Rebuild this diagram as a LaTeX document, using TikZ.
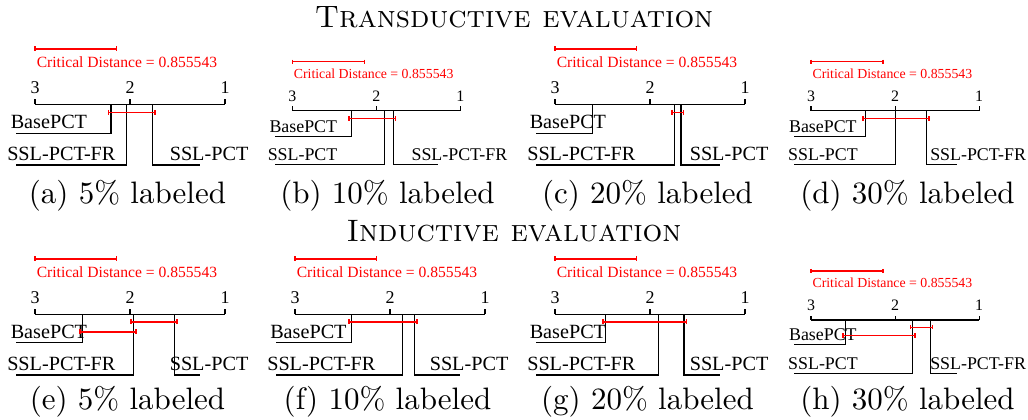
\documentclass[tikz,border=0pt]{standalone}
\usepackage{fontspec}
\newfontfamily\tnr{Liberation Serif}
\newcommand\labfont{\tnr\fontsize{15.15}{18}\selectfont}
\newcommand\cdfont{\tnr\fontsize{11.7}{14}\selectfont}
\newcommand\numfont{\tnr\fontsize{13.5}{16}\selectfont}
\newcommand\capt[1]{\scalebox{2.325}{\fontsize{10}{12}\selectfont #1}}
\tikzset{
  axline/.style={line width=0.8pt},
  methline/.style={line width=0.8pt},
  redline/.style={red, line width=1.1pt},
  lab/.style={font=\labfont, inner sep=0pt},
  cdnum/.style={font=\numfont, inner sep=0pt, anchor=base},
  cdtext/.style={font=\cdfont, text=red, inner sep=0pt, anchor=base west},
  capnode/.style={inner sep=0pt, anchor=base},
}
\newcommand\redbar[3]{\draw[redline] (#1,#3) -- (#2,#3) (#1,#3-2.5) -- (#1,#3+2.5) (#2,#3-2.5) -- (#2,#3+2.5);}
\newcommand\cdframe[1]{%
  \draw[axline] (0,0) -- (190,0);
  \draw[axline] (0,0) -- (0,-5) (95,0) -- (95,-5) (190,0) -- (190,-5);
  \node[cdnum] (#1r3) at (0,-10.5) {3};
  \node[cdnum] (#1r2) at (95,-10.5) {2};
  \node[cdnum] (#1r1) at (190,-10.5) {1};
  \redbar{0}{81.3}{-55.3}
  \node[cdtext] (#1cd) at (1.5,-36.5) {Critical Distance = 0.855543};
}
% #1 name, #2 x, #3 level, #4 label x, #5 text
\newcommand\methL[5]{\draw[methline] (#2,0) |- (-19,#3); \node[lab, anchor=base west] (#1) at (#4,#3-4.5) {#5};}
% #1 name, #2 x, #3 level, #4 text
\newcommand\methR[4]{\draw[methline] (#2,0) |- (165,#3); \node[lab, anchor=base west] (#1) at (134.5,#3-4.5) {#4};}
\begin{document}
\begin{tikzpicture}[x=0.75pt,y=-0.75pt]
\useasboundingbox[fill=white] (0,0) rectangle (1028,420);
\node[capnode] (t1) at (514,28) {\capt{\textsc{Transductive evaluation}}};
\node[capnode] (t2) at (514,242) {\capt{\textsc{Inductive evaluation}}};
% (a)
\begin{scope}[shift={(35,104.3)}]
  \cdframe{a}
  \methL{aB}{76}{29}{-24.5}{BasePCT}
  \methL{aF}{91.7}{60.7}{-28}{SSL-PCT-FR}
  \methR{aS}{117.7}{60.7}{SSL-PCT}
  \redbar{73.5}{120.2}{8}
\end{scope}
% (b)
\begin{scope}[shift={(292.3,110.7)},scale=0.885,transform shape]
  \cdframe{b}
  \methL{bB}{66.7}{29}{-26}{BasePCT}
  \methL{bS}{104.4}{60.7}{-28}{SSL-PCT}
  \methR{bF}{114.1}{60.7}{SSL-PCT-FR}
  \redbar{64.2}{116.6}{9}
\end{scope}
% (c)
\begin{scope}[shift={(555,104.3)}]
  \cdframe{c}
  \methL{cB}{37.3}{29}{-25.5}{BasePCT}
  \methL{cF}{119.3}{60.7}{-28}{SSL-PCT-FR}
  \methR{cS}{126}{60.7}{SSL-PCT}
  \redbar{116.8}{128.5}{8}
\end{scope}
% (d)
\begin{scope}[shift={(811,110.7)},scale=0.885,transform shape]
  \cdframe{d}
  \methL{dB}{61.4}{29}{-25}{BasePCT}
  \methL{dS}{95.7}{60.7}{-26}{SSL-PCT}
  \methR{dF}{130.7}{60.7}{SSL-PCT-FR}
  \redbar{58.9}{133.2}{9}
\end{scope}
% (e)
\begin{scope}[shift={(35,314.3)}]
  \cdframe{e}
  \methL{eB}{47.7}{28.5}{-24.5}{BasePCT}
  \methL{eF}{98.3}{60.7}{-28}{SSL-PCT-FR}
  \methR{eS}{139.3}{60.7}{SSL-PCT}
  \redbar{95.8}{141.8}{7.5}
  \redbar{45.2}{100.8}{17.5}
\end{scope}
% (f)
\begin{scope}[shift={(295,314.3)}]
  \cdframe{f}
  \methL{fB}{56.7}{28.5}{-25}{BasePCT}
  \methL{fF}{107.7}{60.7}{-28}{SSL-PCT-FR}
  \methR{fS}{119.3}{60.7}{SSL-PCT}
  \redbar{54.2}{121.8}{7.5}
\end{scope}
% (g)
\begin{scope}[shift={(555,314.3)}]
  \cdframe{g}
  \methL{gB}{50.7}{28.5}{-25.5}{BasePCT}
  \methL{gF}{103.3}{60.7}{-28}{SSL-PCT-FR}
  \methR{gS}{129}{60.7}{SSL-PCT}
  \redbar{48.2}{131.5}{7.5}
\end{scope}
% (h)
\begin{scope}[shift={(811,320)},scale=0.885,transform shape]
  \cdframe{h}
  \methL{hB}{38.8}{28.2}{-25}{BasePCT}
  \methL{hS}{114.9}{60.7}{-26}{SSL-PCT}
  \methR{hF}{134.5}{60.7}{SSL-PCT-FR}
  \redbar{112.4}{137}{8.2}
  \redbar{36.3}{117.4}{17.3}
\end{scope}
% captions
\node[capnode] (capa) at (127.5,204) {\capt{(a) 5\% labeled}};
\node[capnode] (capb) at (387.5,204) {\capt{(b) 10\% labeled}};
\node[capnode] (capc) at (647.5,204) {\capt{(c) 20\% labeled}};
\node[capnode] (capd) at (907.5,204) {\capt{(d) 30\% labeled}};
\node[capnode] (cape) at (127.5,409) {\capt{(e) 5\% labeled}};
\node[capnode] (capf) at (387.5,409) {\capt{(f) 10\% labeled}};
\node[capnode] (capg) at (647.5,409) {\capt{(g) 20\% labeled}};
\node[capnode] (caph) at (907.5,409) {\capt{(h) 30\% labeled}};
\end{tikzpicture}
\end{document}
